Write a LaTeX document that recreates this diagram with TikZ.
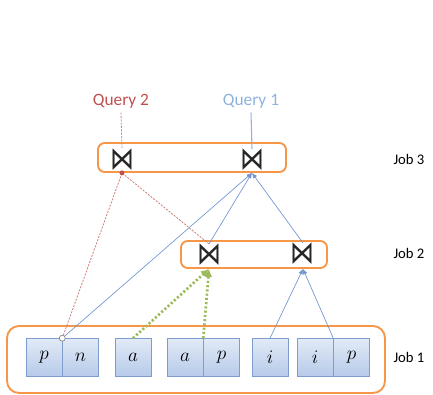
\documentclass[tikz,border=0pt]{standalone}
\usepackage{fontspec}
\setmainfont{Carlito}
\newfontfamily\symfont{DejaVu Sans}
\usetikzlibrary{positioning}
\usetikzlibrary{arrows.meta}
\definecolor{joborange}{HTML}{F79646}
\definecolor{itemedge}{HTML}{7F9CCF}
\definecolor{itemtop}{HTML}{E2EAF7}
\definecolor{itembottom}{HTML}{B6CAE9}
\definecolor{flowblue}{HTML}{6F96D2}
\definecolor{queryblue}{HTML}{8EB1E0}
\definecolor{depred}{HTML}{C0504D}
\definecolor{sharegreen}{HTML}{9BBB59}
\tikzset{
  jobbox/.style={draw=joborange, line width=1.4pt, rounded corners=5pt, inner sep=0pt},
  item/.style={draw=itemedge, top color=itemtop, bottom color=itembottom, minimum width=27pt, minimum height=28.5pt, inner sep=0pt, font=\Large},
  joinop/.style={inner sep=0pt, text=black!85},
  querylabel/.style={font=\fontsize{13}{15}\selectfont},
  joblabel/.style={font=\fontsize{11}{13}\selectfont},
  flow/.style={flowblue, line width=0.5pt, -{Latex[length=4pt,width=3.5pt]}},
  dep/.style={depred!75, line width=0.6pt, dash pattern=on 1.5pt off 1pt},
  share/.style={sharegreen, line width=2pt, dash pattern=on 1.6pt off 1.6pt, -{Latex[length=6pt,width=6pt]}}
}
\newcommand{\joinmark}{\resizebox{18pt}{15.5pt}{\symfont ⋈}}

\begin{document}
\begin{tikzpicture}[x=0.75pt, y=-0.75pt]
\useasboundingbox (0,0) rectangle (433,395);

% job boxes
\node[jobbox, minimum width=141pt, minimum height=21.75pt] (job3) at (192,157.5) {};
\node[jobbox, minimum width=109.5pt, minimum height=20.25pt] (job2) at (254,254.5) {};
\node[jobbox, minimum width=283.5pt, minimum height=50.25pt, rounded corners=9pt] (job1) at (196,359.5) {};

\node[joblabel] (lab3) at (409,159) {Job 3};
\node[joblabel] (lab2) at (409,253) {Job 2};
\node[joblabel] (lab1) at (409,357) {Job 1};

% joins
\node[joinop] (j3a) at (122,160) {\joinmark};
\node[joinop] (j3b) at (252,160) {\joinmark};
\node[joinop] (j2a) at (209,255) {\joinmark};
\node[joinop] (j2b) at (303,254) {\joinmark};

\node[querylabel, text=depred] (q2) at (121,101) {Query 2};
\node[querylabel, text=queryblue] (q1) at (251,101) {Query 1};

% inputs
\node[item] (p1) at (44,357.5) {$p$};
\node[item, right=0pt of p1] (n1) {$n$};
\node[item] (a1) at (133,357.5) {$a$};
\node[item] (a2) at (185,357.5) {$a$};
\node[item, right=0pt of a2] (p2) {$p$};
\node[item] (i1) at (270,357.5) {$i$};
\node[item] (i2) at (315,357.5) {$i$};
\node[item, right=0pt of i2] (p3) {$p$};

\coordinate (j3a-in) at (j3a |- job3.south);
\coordinate (j3b-in) at (j3b |- job3.south);
\coordinate (j2a-in) at (j2a |- job2.south);
\coordinate (j2b-in) at (j2b |- job2.south);
\coordinate (pn) at (p1.north east);

\draw[dep] (q2.south) -- (j3a.north);
\draw[queryblue, line width=0.8pt] (q1.south) -- (j3b.north);

\draw[dep] (pn) -- (j3a-in);
\draw[dep] (j2a.north) -- (j3a-in);
\fill[depred] (j3a-in) circle (2.5);

\draw[flow] (pn) -- (j3b-in);
\draw[flow] (j2a.north) -- (j3b-in);
\draw[flow] (j2b.north) -- (j3b-in);

\draw[share] (a1.north) -- (j2a-in);
\draw[share] (a2.north east) -- (j2a-in);

\draw[flow] (i1.north) -- (j2b-in);
\draw[flow] (i2.north east) -- (j2b-in);

\filldraw[fill=white, draw=gray, line width=0.5pt] (pn) circle (3);

\end{tikzpicture}
\end{document}
